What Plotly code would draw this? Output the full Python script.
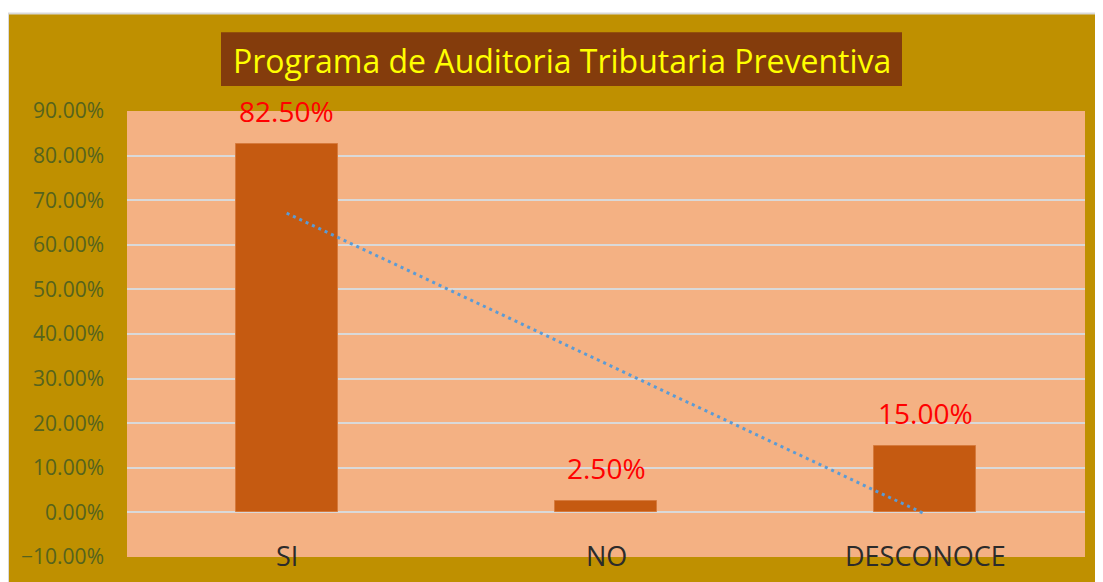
import numpy as np
import plotly.graph_objects as go

categories = ["SI", "NO", "DESCONOCE"]
values = [0.825, 0.025, 0.15]
labels = ["82.50%", "2.50%", "15.00%"]
title_text = "Programa de Auditoria Tributaria Preventiva"

# page is offset by the 8px body margin
OFF = 8
W, H = 1103 - OFF, 582 - OFF
ml = 127 - OFF
mt = 111 - OFF
mr = W - (1085 - OFF)
mb = H - (559 - OFF)
pw, ph = W - ml - mr, H - mt - mb

def px_x(x):
    return (x - OFF - ml) / pw

def px_y(y):
    return (H + OFF - mb - y) / ph

xi = np.arange(len(values))
slope, intercept = np.polyfit(xi, values, 1)
trend = intercept + slope * xi

fig = go.Figure()
fig.add_trace(go.Bar(
    x=categories, y=values, width=0.32,
    marker=dict(color="#C55A11", line=dict(color="#D67A3C", width=1)),
    hoverinfo="skip",
))
fig.add_trace(go.Scatter(
    x=categories, y=trend, mode="lines",
    line=dict(color="#5B9BD5", width=3, dash="3px,4px"),
    hoverinfo="skip",
))

shapes = [
    dict(type="rect", xref="paper", yref="paper", layer="below",
         x0=px_x(8), x1=px_x(1110), y0=px_y(590), y1=px_y(13),
         fillcolor="#BF9000", line=dict(color="#D9D9D9", width=2)),
    dict(type="rect", xref="paper", yref="paper", layer="below",
         x0=0, x1=1, y0=0, y1=1, fillcolor="#F4B183", line=dict(width=0)),
    dict(type="rect", xref="paper", yref="paper", layer="below",
         x0=px_x(221), x1=px_x(902), y0=px_y(86), y1=px_y(32),
         fillcolor="#843C0C", line=dict(width=0)),
]

annotations = [
    dict(text=title_text, xref="paper", yref="paper",
         x=px_x(561.5), y=px_y(60), xanchor="center", yanchor="middle",
         showarrow=False, font=dict(family="Open Sans", size=32, color="#FFFF00")),
]
for c, v, t in zip(categories, values, labels):
    annotations.append(dict(text=t, x=c, y=v, xref="x", yref="y",
                            yanchor="bottom", yshift=12, showarrow=False,
                            font=dict(family="Open Sans", size=28, color="#FF0000")))
for c in categories:
    annotations.append(dict(text=c, x=c, xref="x", yref="y", y=-0.1,
                            yanchor="middle", yshift=2, showarrow=False,
                            font=dict(family="Open Sans", size=27, color="#2B2B2B")))

fig.update_layout(
    width=W, height=H,
    margin=dict(l=ml, r=mr, t=mt, b=mb),
    paper_bgcolor="white", plot_bgcolor="rgba(0,0,0,0)",
    showlegend=False,
    shapes=shapes, annotations=annotations,
    xaxis=dict(showticklabels=False, showgrid=False, zeroline=False,
               range=[-0.5, 2.5], fixedrange=True),
    yaxis=dict(range=[-0.1, 0.9], dtick=0.1, tick0=0, tickformat=".2%",
               showgrid=True, gridcolor="#D9D9D9", gridwidth=2,
               zeroline=True, zerolinecolor="#D9D9D9", zerolinewidth=2,
               ticks="", ticklabelstandoff=22,
               tickfont=dict(family="Open Sans", size=21, color="#55631E"),
               fixedrange=True),
    bargap=0,
)
fig.write_html("out.html")
